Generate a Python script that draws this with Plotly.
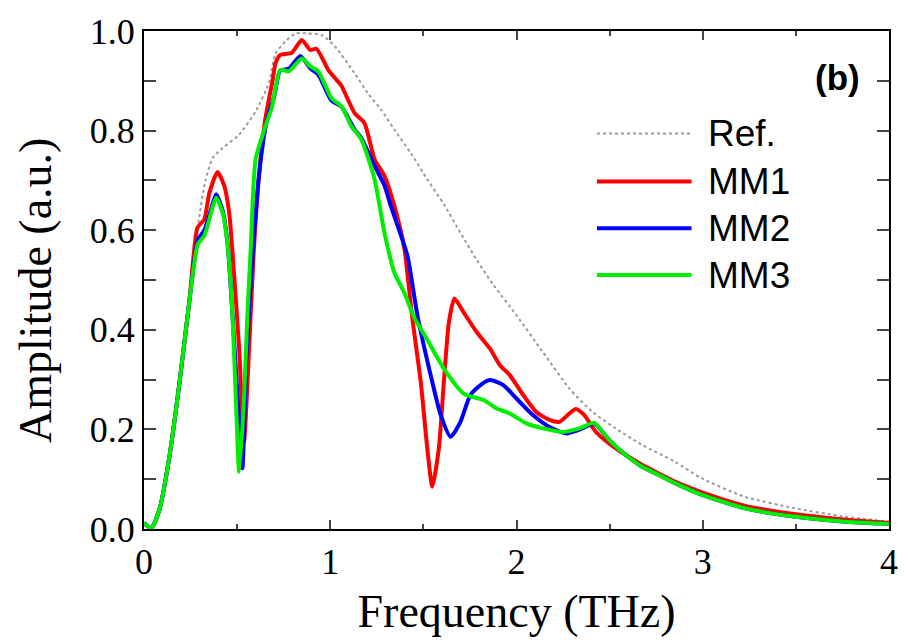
import plotly.graph_objects as go

# ---- data ----
ref_f = [0, 0.04, 0.085, 0.138, 0.191, 0.245, 0.29, 0.33, 0.369, 0.422, 0.511, 0.6, 0.67, 0.706,
         0.759, 0.812, 0.883, 0.954, 1.025, 1.131, 1.202, 1.273, 1.344, 1.432, 1.521, 1.61, 1.699,
         1.787, 1.876, 2.0, 2.142, 2.284, 2.408, 2.532, 2.674, 2.851, 2.993, 3.223, 3.489, 3.755, 4.0]
ref_a = [0.012, 0.003, 0.045, 0.152, 0.3, 0.47, 0.61, 0.7, 0.745, 0.765, 0.792, 0.839, 0.895, 0.955,
         0.979, 0.995, 0.995, 0.992, 0.969, 0.915, 0.875, 0.842, 0.802, 0.755, 0.702, 0.652, 0.595,
         0.54, 0.49, 0.429, 0.355, 0.282, 0.235, 0.202, 0.169, 0.135, 0.102, 0.065, 0.042, 0.025, 0.015]

mm1_f = [0, 0.04, 0.085, 0.138, 0.191, 0.245, 0.287, 0.324, 0.351, 0.395, 0.431, 0.457, 0.475, 0.511,
         0.537, 0.564, 0.59, 0.62, 0.65, 0.69, 0.706, 0.732, 0.793, 0.847, 0.892, 0.927, 0.989, 1.033,
         1.06, 1.131, 1.184, 1.238, 1.291, 1.344, 1.397, 1.44, 1.486, 1.521, 1.548, 1.583, 1.61, 1.637,
         1.667, 1.716, 1.787, 1.858, 1.911, 1.964, 2.036, 2.106, 2.177, 2.23, 2.275, 2.319, 2.363,
         2.426, 2.497, 2.585, 2.674, 2.762, 2.851, 3.0, 3.223, 3.489, 3.755, 4.0]
mm1_a = [0.012, 0.002, 0.042, 0.149, 0.295, 0.462, 0.605, 0.622, 0.675, 0.717, 0.689, 0.636, 0.556,
         0.362, 0.175, 0.362, 0.562, 0.72, 0.82, 0.9, 0.935, 0.952, 0.956, 0.982, 0.962, 0.964, 0.922,
         0.902, 0.89, 0.835, 0.815, 0.742, 0.709, 0.649, 0.565, 0.425, 0.295, 0.162, 0.085, 0.162,
         0.295, 0.415, 0.463, 0.435, 0.395, 0.362, 0.329, 0.309, 0.269, 0.235, 0.219, 0.215, 0.229,
         0.241, 0.229, 0.195, 0.172, 0.149, 0.129, 0.112, 0.095, 0.073, 0.047, 0.03, 0.019, 0.012]

mm2_f = [0, 0.04, 0.085, 0.138, 0.191, 0.245, 0.289, 0.324, 0.36, 0.387, 0.422, 0.449, 0.475, 0.505,
         0.528, 0.55, 0.585, 0.62, 0.66, 0.7, 0.73, 0.78, 0.839, 0.892, 0.936, 1.007, 1.06, 1.131,
         1.167, 1.238, 1.291, 1.325, 1.37, 1.415, 1.468, 1.539, 1.593, 1.646, 1.699, 1.752, 1.81,
         1.858, 1.929, 2.0, 2.088, 2.177, 2.266, 2.354, 2.417, 2.497, 2.585, 2.674, 2.762, 2.851,
         2.993, 3.223, 3.489, 3.755, 4.0]
mm2_a = [0.012, 0.002, 0.042, 0.149, 0.295, 0.462, 0.58, 0.6, 0.642, 0.672, 0.64, 0.572, 0.43, 0.25,
         0.122, 0.35, 0.56, 0.72, 0.82, 0.87, 0.92, 0.925, 0.95, 0.925, 0.912, 0.86, 0.848, 0.802,
         0.785, 0.729, 0.69, 0.649, 0.6, 0.548, 0.429, 0.309, 0.229, 0.185, 0.215, 0.269, 0.29,
         0.299, 0.289, 0.262, 0.229, 0.205, 0.192, 0.202, 0.212, 0.179, 0.149, 0.125, 0.109, 0.092,
         0.069, 0.042, 0.025, 0.015, 0.01]

mm3_f = [0, 0.04, 0.085, 0.138, 0.191, 0.245, 0.289, 0.324, 0.36, 0.387, 0.422, 0.449, 0.475, 0.493,
         0.511, 0.537, 0.555, 0.573, 0.599, 0.652, 0.686, 0.732, 0.777, 0.848, 0.892, 0.936, 1.007,
         1.06, 1.113, 1.167, 1.238, 1.291, 1.344, 1.397, 1.45, 1.521, 1.61, 1.716, 1.823, 1.894, 1.964,
         2.053, 2.142, 2.248, 2.337, 2.417, 2.497, 2.585, 2.674, 2.762, 2.851, 2.993, 3.223, 3.489,
         3.755, 4.0]
mm3_a = [0.012, 0.002, 0.042, 0.149, 0.295, 0.462, 0.572, 0.589, 0.635, 0.665, 0.635, 0.569, 0.429,
         0.262, 0.115, 0.262, 0.429, 0.562, 0.742, 0.809, 0.846, 0.922, 0.919, 0.945, 0.929, 0.919,
         0.865, 0.849, 0.809, 0.782, 0.702, 0.595, 0.515, 0.475, 0.425, 0.38, 0.322, 0.272, 0.259,
         0.242, 0.232, 0.212, 0.202, 0.195, 0.202, 0.213, 0.179, 0.149, 0.125, 0.109, 0.092, 0.069,
         0.042, 0.025, 0.015, 0.01]

series_names = ["Ref.", "MM1", "MM2", "MM3"]
series_colors = ["#9a9a9a", "#ff0000", "#0000ff", "#00ee00"]
x_ticks = [0, 1, 2, 3, 4]
y_ticks = [0.0, 0.1, 0.2, 0.3, 0.4, 0.5, 0.6, 0.7, 0.8, 0.9, 1.0]
y_ticktext = ["0.0", "", "0.2", "", "0.4", "", "0.6", "", "0.8", "", "1.0"]

fig = go.Figure()
data = [(ref_f, ref_a), (mm1_f, mm1_a), (mm2_f, mm2_a), (mm3_f, mm3_a)]
for i, (f, a) in enumerate(data):
    if i == 0:
        line = dict(color=series_colors[i], width=2, dash="dot", shape="spline", smoothing=0.6)
    else:
        line = dict(color=series_colors[i], width=4, shape="spline", smoothing=0.6)
    fig.add_trace(go.Scatter(x=f, y=a, mode="lines", name=series_names[i], line=line,
                             showlegend=False))

# custom legend (long line samples)
leg_y = [0.794, 0.698, 0.604, 0.51]
for i, name in enumerate(series_names):
    fig.add_shape(type="line", xref="paper", yref="paper", x0=0.608, x1=0.735,
                  y0=leg_y[i], y1=leg_y[i],
                  line=dict(color=series_colors[i], width=2 if i == 0 else 4,
                            dash="dot" if i == 0 else "solid"))
    fig.add_annotation(xref="paper", yref="paper", x=0.754, y=leg_y[i], text=name,
                       showarrow=False, xanchor="left", yanchor="middle",
                       font=dict(family="Liberation Sans", size=37, color="black"))

fig.add_annotation(xref="paper", yref="paper", x=0.964, y=0.906, text="<b>(b)</b>",
                   showarrow=False, xanchor="right", yanchor="middle",
                   font=dict(family="Liberation Sans", size=35, color="black"))

serif = "Liberation Serif"
# y-axis title as a rotated annotation, positioned like the reference
fig.add_annotation(xref="paper", yref="paper", x=-0.145, y=0.48, text="Amplitude (a.u.)",
                   showarrow=False, textangle=-90, xanchor="center", yanchor="middle",
                   font=dict(family=serif, size=46, color="black"))

fig.update_layout(
    width=910, height=640,
    margin=dict(l=144, r=14, t=31, b=109),
    paper_bgcolor="white", plot_bgcolor="white",
    font=dict(family=serif, color="black"),
    xaxis=dict(range=[0, 4], tickvals=x_ticks, ticks="inside", ticklen=9, tickwidth=2,
               showline=True, linewidth=2, linecolor="black", mirror="ticks",
               showgrid=False, zeroline=False,
               minor=dict(dtick=0.5, ticks="inside", ticklen=5, tickwidth=2, showgrid=False),
               tickfont=dict(family=serif, size=36, color="black"),
               title=dict(text="Frequency (THz)", font=dict(family=serif, size=46, color="black"),
                          standoff=14)),
    yaxis=dict(range=[0, 1.0], tickvals=y_ticks, ticktext=y_ticktext, ticks="inside",
               ticklen=12, tickwidth=2,
               showline=True, linewidth=2, linecolor="black", mirror="ticks",
               showgrid=False, zeroline=False,
               tickfont=dict(family=serif, size=36, color="black")),
)

fig.write_html("out.html")
